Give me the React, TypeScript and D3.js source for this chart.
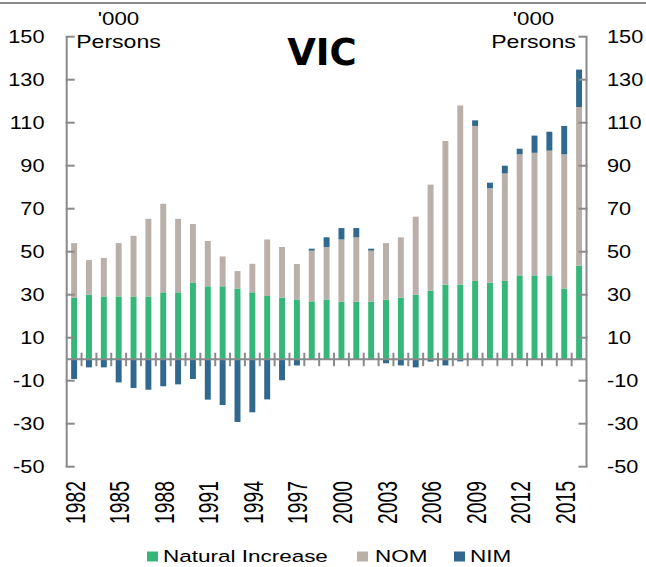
import React from "react";
import * as d3 from "d3";

const years = [
  1982, 1983, 1984, 1985, 1986, 1987, 1988, 1989, 1990, 1991, 1992, 1993, 1994, 1995, 1996, 1997, 1998,
  1999, 2000, 2001, 2002, 2003, 2004, 2005, 2006, 2007, 2008, 2009, 2010, 2011, 2012, 2013, 2014, 2015, 2016,
];
const naturalIncrease = [
  28.5, 30.0, 29.2, 29.2, 29.2, 29.2, 31.1, 31.1, 35.7, 33.9, 33.9, 32.9, 31.1, 29.4, 28.6, 27.8, 26.9,
  27.8, 26.7, 26.7, 26.7, 27.7, 28.6, 30.0, 31.9, 34.7, 34.7, 36.4, 35.6, 36.4, 39.0, 39.0, 39.0, 32.9, 43.5,
];
const nom = [
  25.5, 16.1, 17.9, 24.8, 28.2, 36.1, 41.2, 34.2, 27.2, 21.1, 13.9, 8.1, 13.3, 26.3, 23.6, 16.5, 23.6,
  24.4, 29.0, 30.0, 23.8, 26.3, 28.1, 36.3, 49.3, 66.8, 83.3, 72.1, 43.9, 50.0, 56.3, 57.0, 58.0, 62.4, 73.8,
];
const nim = [
  -9.2, -3.8, -3.8, -10.8, -13.4, -14.2, -12.6, -11.7, -9.2, -18.8, -21.3, -29.2, -24.7, -18.7, -9.8, -2.9, 0.9,
  4.5, 5.3, 4.3, 0.9, -1.9, -2.9, -3.8, -1.1, -2.9, -1.0, 2.6, 2.6, 3.6, 2.6, 8.0, 8.8, 13.2, 17.4,
];
const yTicks = [150, 130, 110, 90, 70, 50, 30, 10, -10, -30, -50];
const yearLabels = [1982, 1985, 1988, 1991, 1994, 1997, 2000, 2003, 2006, 2009, 2012, 2015];
const seriesNames = ["Natural Increase", "NOM", "NIM"];
const seriesKeys = ["ni", "nom", "nim"];
const colors = ["#35b779", "#bab0aa", "#30688e"];

const W = 646;
const H = 567;
const left = 66.7;
const right = 586.5;
const AX = "#8a8a8a";
const FONT = "'Liberation Sans', Arial, sans-serif";

function SText(props: {
  x: number;
  y: number;
  sx?: number;
  size: number;
  anchor?: string;
  children: React.ReactNode;
  weight?: string;
  family?: string;
}) {
  const { x, y, sx = 1.17, size, anchor = "start", children, weight = "normal", family = FONT } = props;
  return (
    <text
      transform={`translate(${x},${y}) scale(${sx},1)`}
      fontSize={size}
      fontFamily={family}
      fontWeight={weight}
      textAnchor={anchor}
      fill="#000"
    >
      {children}
    </text>
  );
}

export default function App() {
  const y = d3.scaleLinear().domain([-50, 150]).range([466.7, 36.7]);
  const x = d3
    .scaleBand<number>()
    .domain(years)
    .range([left, right])
    .paddingInner(0.6)
    .paddingOuter(0.3);
  const step = x.step();

  const rows = years.map((yr, i) => ({ year: yr, ni: naturalIncrease[i], nom: nom[i], nim: nim[i] }));
  const stack = d3
    .stack<any>()
    .keys(seriesKeys)
    .offset(d3.stackOffsetDiverging)(rows);

  const zeroY = y(0);

  const legendItems = [
    { sq: 147, tx: 163 },
    { sq: 357, tx: 375 },
    { sq: 454, tx: 470 },
  ];

  return (
    <svg
      width={W}
      height={H}
      style={{ position: "absolute", left: 0, top: 0, background: "#fff" }}
    >
      <rect x={0} y={0} width={W} height={H} fill="#fff" />
      <line x1={0} x2={W} y1={3} y2={3} stroke={AX} strokeWidth={2} />

      {/* bars */}
      {stack.map((s, si) => (
        <g key={seriesKeys[si]} fill={colors[si]}>
          {s.map((d, i) => {
            const y0 = y(d[0]);
            const y1 = y(d[1]);
            const h = Math.abs(y0 - y1);
            if (h < 0.01) return null;
            return (
              <rect
                key={i}
                x={x(years[i])}
                width={x.bandwidth()}
                y={Math.min(y0, y1)}
                height={h}
              />
            );
          })}
        </g>
      ))}

      {/* left axis */}
      <line x1={left} x2={left} y1={y(150)} y2={y(-50)} stroke={AX} strokeWidth={2} />
      {yTicks.map((t) => (
        <line key={"lt" + t} x1={left - 1} x2={left + 8} y1={y(t)} y2={y(t)} stroke={AX} strokeWidth={2} />
      ))}
      {/* right axis */}
      <line x1={right} x2={right} y1={y(150)} y2={y(-50)} stroke={AX} strokeWidth={2} />
      {yTicks.map((t) => (
        <line key={"rt" + t} x1={right - 8} x2={right + 1} y1={y(t)} y2={y(t)} stroke={AX} strokeWidth={2} />
      ))}

      {/* zero axis */}
      <line x1={left} x2={right} y1={zeroY} y2={zeroY} stroke={AX} strokeWidth={2} />
      {years.slice(1).map((yr, i) => {
        const bx = left + (i + 1) * step;
        return (
          <line key={"ct" + yr} x1={bx} x2={bx} y1={zeroY - 6.5} y2={zeroY + 7} stroke={AX} strokeWidth={2} />
        );
      })}

      {/* y tick labels */}
      {yTicks.map((t) => (
        <g key={"yl" + t}>
          <SText x={44.5} y={y(t) + 6.6} size={18.6} anchor="end">
            {t}
          </SText>
          <SText x={607} y={y(t) + 6.6} size={18.6} anchor="start">
            {t}
          </SText>
        </g>
      ))}

      {/* year labels */}
      {yearLabels.map((yr) => {
        const cx = (x(yr) as number) + x.bandwidth() / 2;
        return (
          <text
            key={"yr" + yr}
            transform={`translate(${cx + 10.5},481) scale(1.42,1) rotate(-90)`}
            fontSize={19.3}
            fontFamily={FONT}
            textAnchor="end"
            fill="#000"
          >
            {yr}
          </text>
        );
      })}

      {/* unit labels */}
      <SText x={118.5} y={25} size={18.6} anchor="middle" sx={1.2}>
        '000
      </SText>
      <SText x={118.5} y={48.3} size={18.6} anchor="middle" sx={1.24}>
        Persons
      </SText>
      <SText x={533.5} y={25} size={18.6} anchor="middle" sx={1.2}>
        '000
      </SText>
      <SText x={533.5} y={48.3} size={18.6} anchor="middle" sx={1.24}>
        Persons
      </SText>

      {/* title */}
      <SText x={322} y={65} size={37} anchor="middle" sx={1} weight="bold" family="'DejaVu Sans', Verdana, sans-serif">
        VIC
      </SText>

      {/* legend */}
      {legendItems.map((l, i) => (
        <g key={"lg" + i}>
          <rect x={l.sq} y={551.5} width={11} height={10} fill={colors[i]} />
          <SText x={l.tx} y={562.3} size={17.3} sx={1.3}>
            {seriesNames[i]}
          </SText>
        </g>
      ))}
    </svg>
  );
}
